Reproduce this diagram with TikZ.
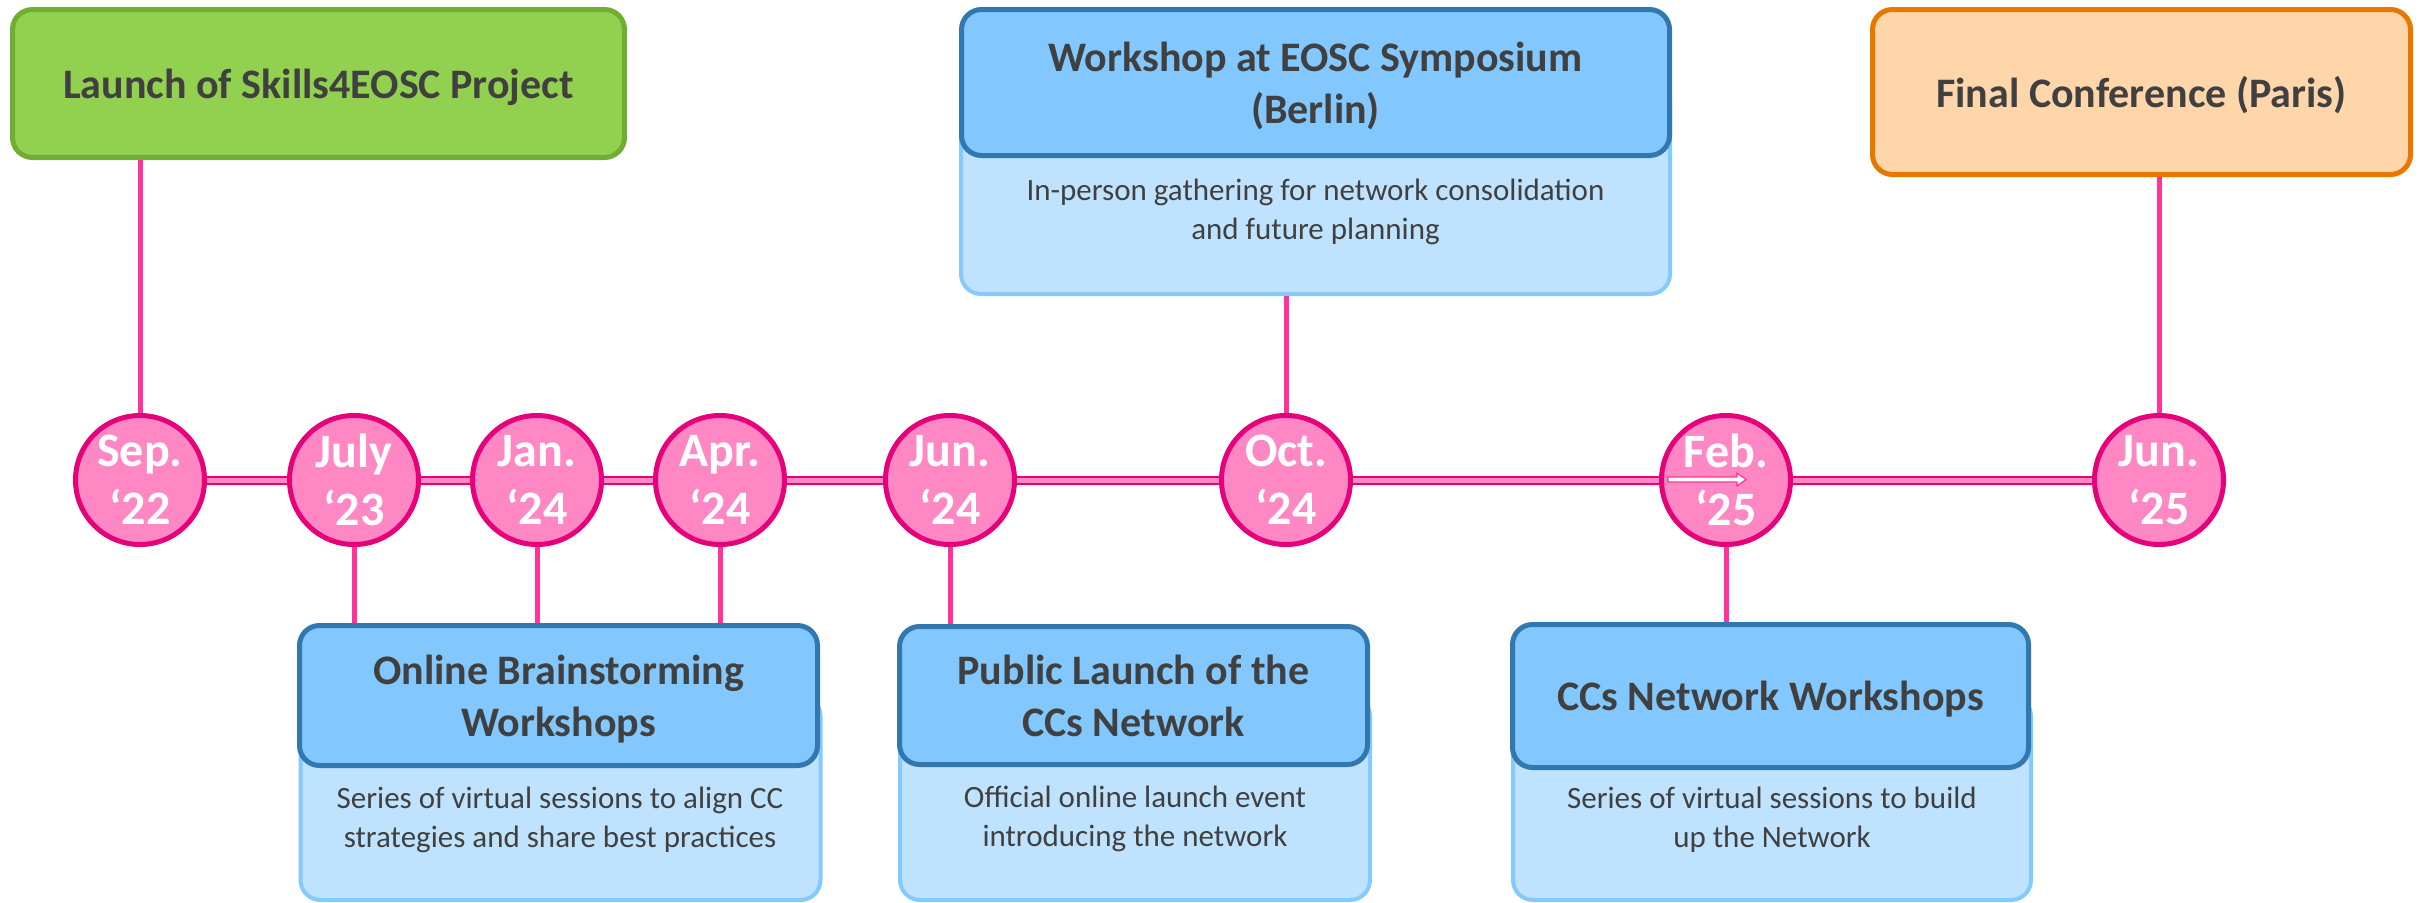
\documentclass[tikz,border=0pt]{standalone}
\usepackage{fontspec}
\setmainfont{Carlito}
\definecolor{darkText}{RGB}{64,64,64}
\definecolor{dotFill}{RGB}{255,136,196}
\definecolor{dotLine}{RGB}{230,0,122}
\definecolor{stemPink}{RGB}{255,51,153}
\definecolor{greenFill}{RGB}{146,208,80}
\definecolor{greenLine}{RGB}{112,173,50}
\definecolor{peachFill}{RGB}{255,213,170}
\definecolor{orangeLine}{RGB}{232,119,0}
\definecolor{headFill}{RGB}{130,200,255}
\definecolor{headLine}{RGB}{49,120,176}
\definecolor{bodyFill}{RGB}{191,227,255}
\definecolor{bodyLine}{RGB}{133,202,255}
\tikzset{
  datedot/.style={circle, draw=dotLine, fill=dotFill, line width=5pt, minimum size=129pt, inner sep=0pt,
    text=white, align=center, text depth=0pt, font=\fontsize{48}{58}\selectfont\bfseries},
  headbox/.style={rectangle, rounded corners=20pt, line width=5pt, inner sep=0pt, text=darkText,
    align=center, text depth=0pt, font=\fontsize{42}{52}\selectfont\bfseries},
  bodybox/.style={rectangle, rounded corners=20pt, draw=bodyLine, fill=bodyFill, line width=4pt, inner sep=0pt},
  bodytext/.style={text=darkText, align=center, text depth=0pt, inner sep=0pt, font=\fontsize{31}{39}\selectfont},
  stem/.style={draw=stemPink, line width=5pt},
  tline/.style={draw=dotLine, line width=2pt, double=dotFill, double distance=5pt},
}
\begin{document}
\begin{tikzpicture}[x=1pt,y=1pt,yscale=-1,xscale=1]
\useasboundingbox (0,0) rectangle (2427,902);

%Shape: Circle
\draw (140,480) node [datedot] (sep22) {Sep.\\‘22};
%Shape: Circle
\draw (354,480) node [datedot] (jul23) {July\\‘23};
%Shape: Circle
\draw (537,480) node [datedot] (jan24) {Jan.\\‘24};
%Shape: Circle
\draw (720,480) node [datedot] (apr24) {Apr.\\‘24};
%Shape: Circle
\draw (950,480) node [datedot] (jun24) {Jun.\\‘24};
%Shape: Circle
\draw (1286,480) node [datedot] (oct24) {Oct.\\‘24};
%Shape: Circle
\draw (1726,480) node [datedot] (feb25) {Feb.\\‘25};
%Shape: Circle
\draw (2159,480) node [datedot] (jun25) {Jun.\\‘25};

%Timeline
\draw [tline]    (sep22) -- (jul23) ;
\draw [tline]    (jul23) -- (jan24) ;
\draw [tline]    (jan24) -- (apr24) ;
\draw [tline]    (apr24) -- (jun24) ;
\draw [tline]    (jun24) -- (oct24) ;
\draw [tline]    (oct24) -- (feb25) ;
\draw [tline]    (feb25) -- (jun25) ;

%Shape: Arrow
\draw [draw=stemPink, fill=white, line width=1.2pt] (1668,477) -- (1737,477) -- (1737,473) -- (1746,479.5) -- (1737,486) -- (1737,482) -- (1668,482) -- cycle ;

%Shape: Rounded Rect
\draw (318.5,83.5) node [headbox, draw=greenLine, fill=greenFill, minimum width=612pt, minimum height=148pt] (launch) {Launch of Skills4EOSC Project};
%Shape: Rounded Rect
\draw (2141.5,92) node [headbox, draw=orangeLine, fill=peachFill, minimum width=538pt, minimum height=165pt] (final) {Final Conference (Paris)};
%Shape: Rounded Rect
\draw (1315.5,188) node [bodybox, minimum width=709pt, minimum height=212pt] (eoscBody) {};
\draw (1315.5,82.5) node [headbox, draw=headLine, fill=headFill, minimum width=708pt, minimum height=146pt] (eoscHead) {Workshop at EOSC Symposium\\(Berlin)};
% Text Node
\draw (1315.5,209) node [bodytext] (eoscText) {In-person gathering for network consolidation\\and future planning};

%Shape: Rounded Rect
\draw (560.5,798) node [bodybox, minimum width=520pt, minimum height=204pt] (onlineBody) {};
\draw (558.5,695.5) node [headbox, draw=headLine, fill=headFill, minimum width=518pt, minimum height=140pt] (onlineHead) {Online Brainstorming\\Workshops};
% Text Node
\draw (560,817) node [bodytext] (onlineText) {Series of virtual sessions to align CC\\strategies and share best practices};

%Shape: Rounded Rect
\draw (1135,798) node [bodybox, minimum width=470pt, minimum height=204pt] (publicBody) {};
\draw (1133.5,695.5) node [headbox, draw=headLine, fill=headFill, minimum width=468pt, minimum height=138pt] (publicHead) {Public Launch of the\\CCs Network};
% Text Node
\draw (1135,816) node [bodytext] (publicText) {Official online launch event\\introducing the network};

%Shape: Rounded Rect
\draw (1772,798) node [bodybox, minimum width=518pt, minimum height=204pt] (ccsBody) {};
\draw (1770.5,696) node [headbox, draw=headLine, fill=headFill, minimum width=516pt, minimum height=143pt] (ccsHead) {CCs Network Workshops};
% Text Node
\draw (1772,817) node [bodytext] (ccsText) {Series of virtual sessions to build\\up the Network};

%Straight Lines
\draw [stem]    (sep22.north) -- (sep22.north |- launch.south) ;
%Straight Lines
\draw [stem]    (oct24.north) -- (oct24.north |- eoscBody.south) ;
%Straight Lines
\draw [stem]    (jun25.north) -- (jun25.north |- final.south) ;
%Straight Lines
\draw [stem]    (jul23.south) -- (jul23.south |- onlineHead.north) ;
%Straight Lines
\draw [stem]    (jan24.south) -- (jan24.south |- onlineHead.north) ;
%Straight Lines
\draw [stem]    (apr24.south) -- (apr24.south |- onlineHead.north) ;
%Straight Lines
\draw [stem]    (jun24.south) -- (jun24.south |- publicHead.north) ;
%Straight Lines
\draw [stem]    (feb25.south) -- (feb25.south |- ccsHead.north) ;

\end{tikzpicture}
\end{document}
